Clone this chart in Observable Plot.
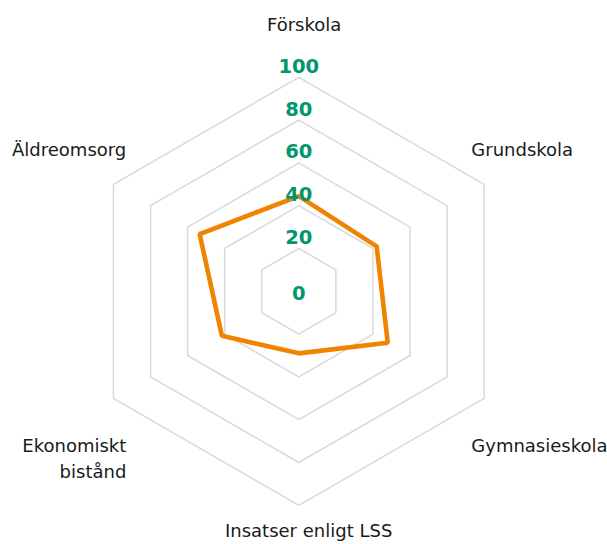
<!DOCTYPE html>
<html><head><meta charset="utf-8">
<script src="https://cdn.jsdelivr.net/npm/d3@7"></script>
<script src="https://cdn.jsdelivr.net/npm/@observablehq/plot@0.6"></script>
<style>html,body{margin:0;padding:0;background:#fff} #chart svg{display:block}</style>
</head><body><div id="chart"></div>
<script>
// ---- data ----
const categories = ["Förskola", "Grundskola", "Gymnasieskola", "Insatser enligt LSS", "Ekonomiskt bistånd", "Äldreomsorg"];
const categoryLabels = ["Förskola", "Grundskola", "Gymnasieskola", "Insatser enligt LSS", "Ekonomiskt\nbistånd", "Äldreomsorg"];
const values = [44.5, 42, 48, 29, 41.5, 53.5];
const ticks = [0, 20, 40, 60, 80, 100];

// ---- geometry ----
const W = 607, H = 544;
const k = 2.14, cx = 298.3, cy = 290.8; // px per unit, centre in px
const n = categories.length;
const ang = i => i * 2 * Math.PI / n;
const px = (v, i) => v * Math.sin(ang(i));
const py = (v, i) => v * Math.cos(ang(i));
const maxV = d3.max(ticks);

const grid = ticks.filter(t => t > 0).flatMap(t => categories.map((c, i) => ({level: t, x: px(t, i), y: py(t, i)})));
const series = values.map((v, i) => ({cat: categories[i], x: px(v, i), y: py(v, i)}));

const labels = categories.map((c, i) => {
  const s = Math.sin(ang(i)), vx = px(maxV, i), vy = py(maxV, i);
  if (Math.abs(s) < 0.01) {
    return {text: categoryLabels[i], x: vy > 0 ? 2.5 : 4.6, y: vy > 0 ? vy + 21.5 : vy - 6.2, anchor: "middle", line: vy > 0 ? "bottom" : "top"};
  }
  return {text: categoryLabels[i], x: vx - Math.sign(s) * 6, y: vy > 0 ? vy + 13 : vy - 16.8, anchor: s > 0 ? "start" : "end", line: vy > 0 ? "bottom" : "top"};
});

const catText = (anchor, line) => Plot.text(labels.filter(d => d.anchor === anchor && d.line === line), {
  x: "x", y: "y", text: "text", textAnchor: anchor, lineAnchor: line, lineHeight: 1.41,
  fontSize: 18, fill: "#1a1a1a"
});

const chart = Plot.plot({
  width: W, height: H,
  margin: 0,
  x: {domain: [-cx / k, (W - cx) / k], range: [0, W], axis: null},
  y: {domain: [(cy - H) / k, cy / k], range: [H, 0], axis: null},
  style: {fontFamily: "'DejaVu Sans', sans-serif", background: "#fff"},
  marks: [
    Plot.line(grid, {x: "x", y: "y", z: "level", curve: "linear-closed", stroke: "#d9d9d9", strokeWidth: 1.5}),
    Plot.line(series, {x: "x", y: "y", curve: "linear-closed", stroke: "#f08300", strokeWidth: 4.6, strokeLinejoin: "miter"}),
    Plot.text(ticks.filter(t => t > 0), {x: () => 0, y: d => d, text: d => String(d), lineAnchor: "bottom", dy: -4.5,
      fontSize: 19.5, fontWeight: "bold", fill: "#00966e"}),
    Plot.text(ticks.filter(t => t === 0), {x: () => 0, y: d => d, text: d => String(d), lineAnchor: "middle", dy: 2,
      fontSize: 19.5, fontWeight: "bold", fill: "#00966e"}),
    catText("middle", "bottom"),
    catText("middle", "top"),
    catText("start", "bottom"),
    catText("start", "top"),
    catText("end", "bottom"),
    catText("end", "top")
  ]
});
document.getElementById("chart").append(chart);
</script>
</body></html>
